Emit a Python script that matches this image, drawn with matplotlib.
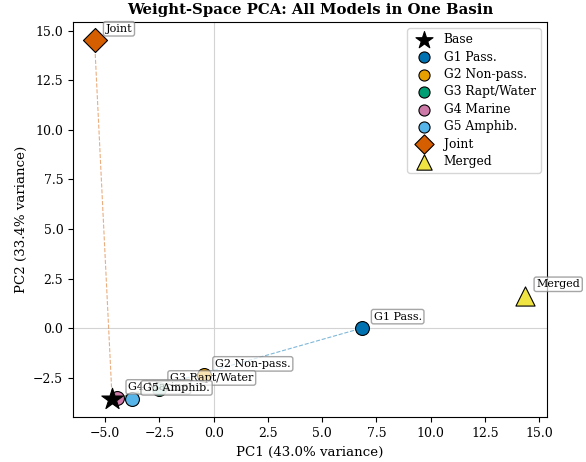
import matplotlib
matplotlib.use("Agg")
import matplotlib.pyplot as plt

plt.rcParams["font.family"] = ["DejaVu Serif"]

# PCA coordinates of each model's weights
names = ["Base", "G1 Pass.", "G2 Non-pass.", "G3 Rapt/Water", "G4 Marine",
         "G5 Amphib.", "Joint", "Merged"]
pc1 = [-4.68, 6.86, -0.45, -2.52, -4.45, -3.76, -5.49, 14.36]
pc2 = [-3.57, 0.02, -2.36, -3.07, -3.52, -3.57, 14.52, 1.65]
colors = ["black", "#0072B2", "#E69F00", "#009E73", "#CC79A7", "#56B4E9",
          "#D55E00", "#F0E442"]
markers = ["*", "o", "o", "o", "o", "o", "D", "^"]
sizes = [260, 100, 100, 100, 100, 100, 150, 190]
var_pc1 = 43.0
var_pc2 = 33.4

fig = plt.figure(figsize=(5.86, 4.62), dpi=100)
ax = fig.add_axes([0.1246, 0.097, 0.933 - 0.1246, 0.952 - 0.097])

ax.axhline(0, color="lightgray", lw=0.8, zorder=0)
ax.axvline(0, color="lightgray", lw=0.8, zorder=0)

# dashed links from the base model to each fine-tuned model
for i in range(1, len(names) - 1):
    ax.plot([pc1[0], pc1[i]], [pc2[0], pc2[i]], ls="--", lw=0.8,
            color=colors[i], alpha=0.5, zorder=1)

for i, n in enumerate(names):
    ax.scatter(pc1[i], pc2[i], s=sizes[i], c=colors[i], marker=markers[i],
               edgecolors="black", linewidths=0.8, label=n,
               zorder=2.5 if i == 0 else 2)
    if i > 0:
        ax.annotate(n, (pc1[i], pc2[i]), xytext=(8, 6),
                    textcoords="offset points", fontsize=8, zorder=3,
                    bbox=dict(boxstyle="round,pad=0.2", fc="white",
                              ec="gray", alpha=0.7))

ax.set_xlabel(f"PC1 ({var_pc1:.1f}% variance)", fontsize=9.6)
ax.set_ylabel(f"PC2 ({var_pc2:.1f}% variance)", fontsize=9.6)
ax.set_title("Weight-Space PCA: All Models in One Basin", fontsize=10.7,
             fontweight="bold")
ax.tick_params(labelsize=9)
ax.legend(loc="upper right", fontsize=8.8, markerscale=0.8,
          handletextpad=0.6, labelspacing=0.36)

fig.savefig("out.png", dpi=100)
